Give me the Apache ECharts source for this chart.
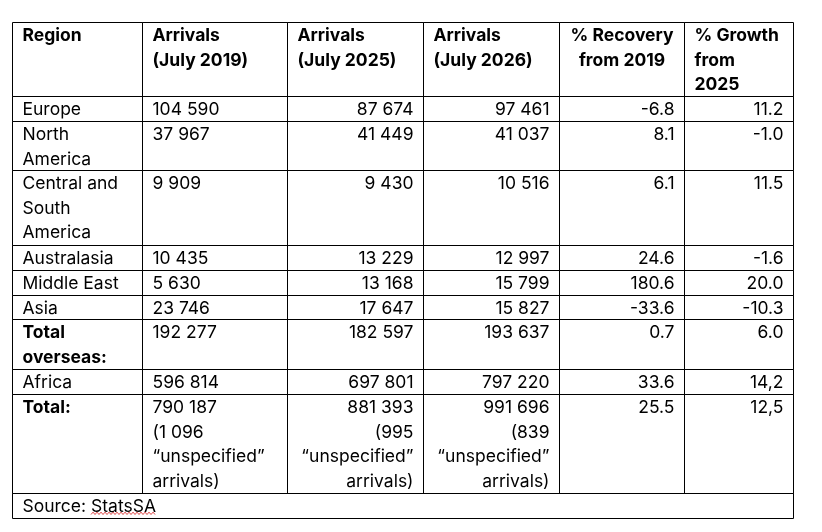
<!DOCTYPE html>
<html>
<head>
<meta charset="utf-8">
<script src="https://cdn.jsdelivr.net/npm/echarts@6/dist/echarts.min.js"></script>
<style>
    html, body { margin: 0; padding: 0; background: #fff; }
    #table { width: 822px; height: 532px; }
</style>
</head>
<body>
<div id="table"></div>
<script>
// table contents
const headers = ['Region', 'Arrivals\n(July 2019)', 'Arrivals\n(July 2025)', 'Arrivals\n(July 2026)', '% Recovery\nfrom 2019', '% Growth\nfrom\n2025']
const regions = ['Europe', 'North\nAmerica', 'Central and\nSouth\nAmerica', 'Australasia', 'Middle East', 'Asia', 'Total\noverseas:', 'Africa', 'Total:']
const arrivals2019 = [104590, 37967, 9909, 10435, 5630, 23746, 192277, 596814, 790187]
const arrivals2025 = [87674, 41449, 9430, 13229, 13168, 17647, 182597, 697801, 881393]
const arrivals2026 = [97461, 41037, 10516, 12997, 15799, 15827, 193637, 797220, 991696]
const unspecified = [1096, 995, 839] // "unspecified" arrivals in the Total row
const recovery = [-6.8, 8.1, 6.1, 24.6, 180.6, -33.6, 0.7, 33.6, 25.5]
const growth = ['11.2', '-1.0', '11.5', '-1.6', '20.0', '-10.3', '6.0', '14,2', '12,5']
const boldRegions = ['Total\noverseas:', 'Total:']
const sourceLabel = 'Source: '
const sourceName = 'StatsSA'

// layout
const colWidths = [130, 144.5, 136.5, 136, 125, 109]
const rowLines = [3, 1, 2, 3, 1, 1, 1, 2, 1, 4, 1] // header, regions..., source
const headerAlign = ['left', 'left', 'left', 'left', 'center', 'left']
const bodyAlign = ['left', 'left', 'right', 'right', 'right', 'right']
const FONT = 'Inter'
const FONT_SIZE = 17.5
const PAD = 10

const fmt = n => String(n).replace(/\B(?=(\d{3})+(?!\d))/g, ' ')

const colStart = colWidths.reduce((acc, w) => [...acc, acc[acc.length - 1] + w], [0])
const lineStart = rowLines.reduce((acc, l) => [...acc, acc[acc.length - 1] + l], [0])
const totalWidth = colStart[colStart.length - 1]
const totalLines = lineStart[lineStart.length - 1]

const cells = []
headers.forEach((h, c) => {
    cells.push({ c0: colStart[c], c1: colStart[c + 1], r0: lineStart[0], r1: lineStart[1], text: h, align: headerAlign[c], bold: true })
})
regions.forEach((region, i) => {
    const r = i + 1
    const last = i === regions.length - 1
    const note = k => last ? '\n(' + fmt(unspecified[k]) + '\n“unspecified”\narrivals)' : ''
    const texts = [
        region,
        fmt(arrivals2019[i]) + note(0),
        fmt(arrivals2025[i]) + note(1),
        fmt(arrivals2026[i]) + note(2),
        recovery[i].toFixed(1),
        growth[i]
    ]
    texts.forEach((t, c) => {
        cells.push({
            c0: colStart[c], c1: colStart[c + 1], r0: lineStart[r], r1: lineStart[r + 1],
            text: t, align: bodyAlign[c], bold: c === 0 && boldRegions.includes(region)
        })
    })
})
cells.push({
    c0: 0, c1: totalWidth, r0: lineStart[rowLines.length - 1], r1: totalLines,
    text: sourceLabel + sourceName, align: 'left', bold: false, squiggle: true
})

const measure = (() => {
    const ctx = document.createElement('canvas').getContext('2d')
    return (text, bold) => {
        ctx.font = (bold ? 'bold ' : '') + FONT_SIZE + 'px ' + FONT
        return ctx.measureText(text).width
    }
})()

const renderCell = (params, api) => {
    const cell = cells[params.dataIndex]
    const p0 = api.coord([cell.c0, cell.r0])
    const p1 = api.coord([cell.c1, cell.r1])
    const lineH = api.size([0, 1])[1]
    const x0 = Math.round(p0[0]) + 0.5
    const x1 = Math.round(p1[0]) + 0.5
    const y0 = Math.round(p0[1]) + 0.5
    const y1 = Math.round(p1[1]) + 0.5
    let tx = x0 + PAD
    if (cell.align === 'right') tx = x1 - PAD
    if (cell.align === 'center') tx = (x0 + x1) / 2
    const children = [
        {
            type: 'rect',
            shape: { x: x0, y: y0, width: x1 - x0, height: y1 - y0 },
            style: { fill: null, stroke: '#000', lineWidth: 1 }
        },
        {
            type: 'text',
            style: {
                text: cell.text,
                x: tx,
                y: y0 + 0.5,
                align: cell.align,
                verticalAlign: 'top',
                lineHeight: lineH,
                fontFamily: FONT,
                fontSize: FONT_SIZE,
                fontWeight: cell.bold ? 'bold' : 'normal',
                fill: '#000'
            }
        }
    ]
    if (cell.squiggle) {
        // spell-check underline under the source name
        const sx = tx + measure(sourceLabel, false)
        const ex = sx + measure(sourceName, false)
        const sy = y0 + lineH - 5
        const pts = []
        for (let x = sx, k = 0; x <= ex; x += 2, k++) pts.push([x, sy + (k % 2 ? -1.2 : 1.2)])
        children.push({
            type: 'polyline',
            shape: { points: pts },
            style: { fill: null, stroke: '#d62020', lineWidth: 0.8 }
        })
    }
    return { type: 'group', children }
}

const chart = echarts.init(document.getElementById('table'))
chart.setOption({
    animation: false,
    backgroundColor: '#fff',
    grid: { left: 12, top: 21.5, width: totalWidth, height: 496.5 },
    xAxis: { type: 'value', min: 0, max: totalWidth, show: false },
    yAxis: { type: 'value', min: 0, max: totalLines, inverse: true, show: false },
    series: [{
        type: 'custom',
        clip: false,
        renderItem: renderCell,
        data: cells.map(c => [c.c0, c.r0, c.c1, c.r1])
    }]
})
</script>
</body>
</html>
